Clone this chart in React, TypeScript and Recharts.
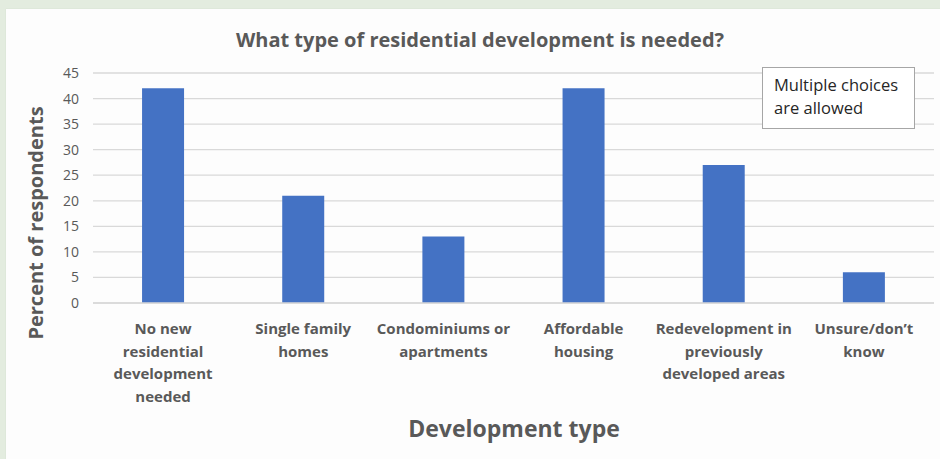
import { BarChart, Bar, XAxis, YAxis, CartesianGrid } from "recharts";

const categories = [
  "No new\nresidential\ndevelopment\nneeded",
  "Single family\nhomes",
  "Condominiums or\napartments",
  "Affordable\nhousing",
  "Redevelopment in\npreviously\ndeveloped areas",
  "Unsure/don’t\nknow",
];
const percents = [42, 21, 13, 42, 27, 6];
const yTicks = [0, 5, 10, 15, 20, 25, 30, 35, 40, 45];

const data = categories.map((name, i) => ({ name, value: percents[i] }));

const FONT = "'Open Sans', sans-serif";
const GREY = "#595959";

// multi-line category label
function CategoryTick(props: any) {
  const { x, y, payload } = props;
  const lines = String(payload.value).split("\n");
  return (
    <text
      x={x}
      y={y + 23}
      textAnchor="middle"
      fill={GREY}
      fontFamily={FONT}
      fontWeight={700}
      fontSize={15}
    >
      {lines.map((line, i) => (
        <tspan key={i} x={x} dy={i === 0 ? 0 : 22.5}>
          {line}
        </tspan>
      ))}
    </text>
  );
}

export default function App() {
  return (
    <div
      style={{
        position: "absolute",
        left: 0,
        top: 0,
        width: 940,
        height: 459,
        background: "#e3ecdf",
        overflow: "hidden",
        fontFamily: FONT,
      }}
    >
      <div
        style={{
          position: "absolute",
          left: 6,
          top: 9,
          width: 934,
          height: 450,
          background: "#fdfdfd",
          boxShadow: "0 0 1px #c8d4c4",
        }}
      />
      <BarChart
        width={940}
        height={459}
        data={data}
        margin={{ top: 73, right: 6, left: 43, bottom: 0 }}
        barCategoryGap="35%"
        style={{ position: "absolute", left: 0, top: 0 }}
      >
        <CartesianGrid vertical={false} stroke="#d9d9d9" strokeWidth={1.3} />
        <XAxis
          dataKey="name"
          interval={0}
          height={156}
          axisLine={{ stroke: "#d9d9d9", strokeWidth: 1.3 }}
          tickLine={false}
          tick={<CategoryTick />}
        />
        <YAxis
          width={50}
          domain={[0, 45]}
          ticks={yTicks}
          interval={0}
          axisLine={false}
          tickLine={false}
          tick={{ fill: GREY, fontSize: 14, fontFamily: FONT }}
          tickMargin={8}
        />
        <Bar dataKey="value" fill="#4472c4" isAnimationActive={false} />
      </BarChart>

      <div
        style={{
          position: "absolute",
          left: 480,
          top: 39,
          transform: "translate(-50%, -50%)",
          whiteSpace: "nowrap",
          color: GREY,
          fontWeight: 700,
          fontSize: 20,
        }}
      >
        What type of residential development is needed?
      </div>

      <div
        style={{
          position: "absolute",
          left: 35,
          top: 223,
          transform: "translate(-50%, -50%) rotate(-90deg)",
          whiteSpace: "nowrap",
          color: GREY,
          fontWeight: 700,
          fontSize: 20,
        }}
      >
        Percent of respondents
      </div>

      <div
        style={{
          position: "absolute",
          left: 514,
          top: 428,
          transform: "translate(-50%, -50%)",
          whiteSpace: "nowrap",
          color: GREY,
          fontWeight: 700,
          fontSize: 23,
        }}
      >
        Development type
      </div>

      <div
        style={{
          position: "absolute",
          left: 762,
          top: 67,
          width: 153,
          height: 62,
          boxSizing: "border-box",
          border: "1.5px solid #a6a6a6",
          background: "#fff",
          padding: "5px 0 0 11px",
          color: "#262626",
          fontSize: 16.5,
          lineHeight: "23px",
        }}
      >
        Multiple choices
        <br />
        are allowed
      </div>
    </div>
  );
}
